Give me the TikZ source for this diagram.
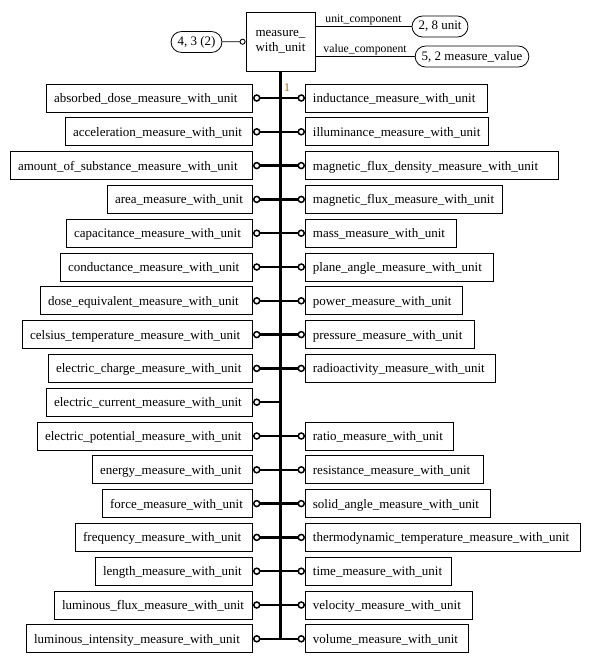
\documentclass[tikz,border=0pt]{standalone}
\usepackage{fontspec}
\setmainfont{Liberation Serif}
\usetikzlibrary{arrows.meta}
\definecolor{cardcol}{RGB}{150,100,0}
\hyphenpenalty=10000
\exhyphenpenalty=10000

\tikzset{
  ent/.style={draw, line width=0.8pt, text width=#1-15, inner xsep=7.5, inner ysep=0,
    text height=11, text depth=2, minimum height=28, align=left,
    font=\fontsize{13}{15}\selectfont},
  refbox/.style={draw, line width=0.8pt, rounded corners=10.5, minimum height=21,
    inner xsep=6.5, inner ysep=0, font=\fontsize{13}{15}\selectfont},
  rel/.style={line width=2.4pt, -{Circle[open, length=7.5pt, line width=1.5pt]}},
  attr/.style={line width=0.8pt},
  lbl/.style={font=\fontsize{11.7}{13}\selectfont, inner sep=1.5pt}
}

\begin{document}
\begin{tikzpicture}[x=1pt, y=-1pt]
        \useasboundingbox (0,0) rectangle (590,664);
        % \draw[very thin,color=gray] (0,0) grid[step=50] (590,664);

        % entity and its attributes
        \node[draw, line width=0.8pt, minimum width=69, minimum height=59, align=left,
              font=\fontsize{13}{15}\selectfont] (mwu) at (280.5,41.5) {measure\_\\with\_unit};
        \node[refbox] (page) at (196.5,42) {4, 3 (2)};
        \node[refbox] (unit) at (440,26.5) {2, 8 unit};
        \node[refbox] (value) at (472,56.5) {5, 2 measure\_value};
        \draw[attr, -{Circle[open, length=6pt, line width=0.9pt]}] (page) -- (mwu);
        \draw[attr] (mwu.east |- unit) -- (unit) node[lbl, midway, above] (unitlbl) {unit\_component};
        \draw[attr] (mwu.east |- value) -- (value) node[lbl, midway, above] (valuelbl) {value\_component};

        % left column
        \node[ent=206, anchor=east] (absorbed) at (253,98) {absorbed\_dose\_measure\_with\_unit};
        \node[ent=187, anchor=east] (accel) at (253,131.8) {acceleration\_measure\_with\_unit};
        \node[ent=242, anchor=east] (amount) at (253,165.6) {amount\_of\_substance\_measure\_with\_unit};
        \node[ent=145, anchor=east] (area) at (253,199.4) {area\_measure\_with\_unit};
        \node[ent=186, anchor=east] (capac) at (253,233.2) {capacitance\_measure\_with\_unit};
        \node[ent=192, anchor=east] (conduct) at (253,267) {conductance\_measure\_with\_unit};
        \node[ent=212, anchor=east] (dose) at (253,300.8) {dose\_equivalent\_measure\_with\_unit};
        \node[ent=230, anchor=east] (celsius) at (253,334.6) {celsius\_temperature\_measure\_with\_unit};
        \node[ent=204, anchor=east] (charge) at (253,368.4) {electric\_charge\_measure\_with\_unit};
        \node[ent=206, anchor=east] (current) at (253,402.2) {electric\_current\_measure\_with\_unit};
        \node[ent=215, anchor=east] (potential) at (253,436) {electric\_potential\_measure\_with\_unit};
        \node[ent=160, anchor=east] (energy) at (253,469.8) {energy\_measure\_with\_unit};
        \node[ent=150, anchor=east] (force) at (253,503.6) {force\_measure\_with\_unit};
        \node[ent=177, anchor=east] (freq) at (253,537.4) {frequency\_measure\_with\_unit};
        \node[ent=157, anchor=east] (length) at (253,571.2) {length\_measure\_with\_unit};
        \node[ent=198, anchor=east] (lumflux) at (253,605) {luminous\_flux\_measure\_with\_unit};
        \node[ent=226, anchor=east] (lumint) at (253,638.8) {luminous\_intensity\_measure\_with\_unit};

        % right column
        \node[ent=182, anchor=west] (induct) at (305,98) {inductance\_measure\_with\_unit};
        \node[ent=183, anchor=west] (illum) at (305,131.8) {illuminance\_measure\_with\_unit};
        \node[ent=253, anchor=west] (fluxdens) at (305,165.6) {magnetic\_flux\_density\_measure\_with\_unit};
        \node[ent=197, anchor=west] (flux) at (305,199.4) {magnetic\_flux\_measure\_with\_unit};
        \node[ent=151, anchor=west] (mass) at (305,233.2) {mass\_measure\_with\_unit};
        \node[ent=188, anchor=west] (plane) at (305,267) {plane\_angle\_measure\_with\_unit};
        \node[ent=157, anchor=west] (power) at (305,300.8) {power\_measure\_with\_unit};
        \node[ent=169, anchor=west] (press) at (305,334.6) {pressure\_measure\_with\_unit};
        \node[ent=190, anchor=west] (radio) at (305,368.4) {radioactivity\_measure\_with\_unit};
        \node[ent=148, anchor=west] (ratio) at (305,436) {ratio\_measure\_with\_unit};
        \node[ent=178, anchor=west] (resist) at (305,469.8) {resistance\_measure\_with\_unit};
        \node[ent=185, anchor=west] (solid) at (305,503.6) {solid\_angle\_measure\_with\_unit};
        \node[ent=275, anchor=west] (thermo) at (305,537.4) {thermodynamic\_temperature\_measure\_with\_unit};
        \node[ent=146, anchor=west] (time) at (305,571.2) {time\_measure\_with\_unit};
        \node[ent=167, anchor=west] (veloc) at (305,605) {velocity\_measure\_with\_unit};
        \node[ent=163, anchor=west] (volume) at (305,638.8) {volume\_measure\_with\_unit};

        % supertype trunk
        \draw[line width=2.6pt] (mwu) -- (mwu.south |- lumint);
        \node[text=cardcol, font=\fontsize{11.7}{13}\selectfont, inner sep=0] (card) at (287,87.5) {1};

        \draw[rel] (mwu.south |- absorbed) -- (absorbed);
        \draw[rel] (mwu.south |- accel) -- (accel);
        \draw[rel] (mwu.south |- amount) -- (amount);
        \draw[rel] (mwu.south |- area) -- (area);
        \draw[rel] (mwu.south |- capac) -- (capac);
        \draw[rel] (mwu.south |- conduct) -- (conduct);
        \draw[rel] (mwu.south |- dose) -- (dose);
        \draw[rel] (mwu.south |- celsius) -- (celsius);
        \draw[rel] (mwu.south |- charge) -- (charge);
        \draw[rel] (mwu.south |- current) -- (current);
        \draw[rel] (mwu.south |- potential) -- (potential);
        \draw[rel] (mwu.south |- energy) -- (energy);
        \draw[rel] (mwu.south |- force) -- (force);
        \draw[rel] (mwu.south |- freq) -- (freq);
        \draw[rel] (mwu.south |- length) -- (length);
        \draw[rel] (mwu.south |- lumflux) -- (lumflux);
        \draw[rel] (mwu.south |- lumint) -- (lumint);

        \draw[rel] (mwu.south |- induct) -- (induct);
        \draw[rel] (mwu.south |- illum) -- (illum);
        \draw[rel] (mwu.south |- fluxdens) -- (fluxdens);
        \draw[rel] (mwu.south |- flux) -- (flux);
        \draw[rel] (mwu.south |- mass) -- (mass);
        \draw[rel] (mwu.south |- plane) -- (plane);
        \draw[rel] (mwu.south |- power) -- (power);
        \draw[rel] (mwu.south |- press) -- (press);
        \draw[rel] (mwu.south |- radio) -- (radio);
        \draw[rel] (mwu.south |- ratio) -- (ratio);
        \draw[rel] (mwu.south |- resist) -- (resist);
        \draw[rel] (mwu.south |- solid) -- (solid);
        \draw[rel] (mwu.south |- thermo) -- (thermo);
        \draw[rel] (mwu.south |- time) -- (time);
        \draw[rel] (mwu.south |- veloc) -- (veloc);
        \draw[rel] (mwu.south |- volume) -- (volume);
    \end{tikzpicture}
\end{document}
